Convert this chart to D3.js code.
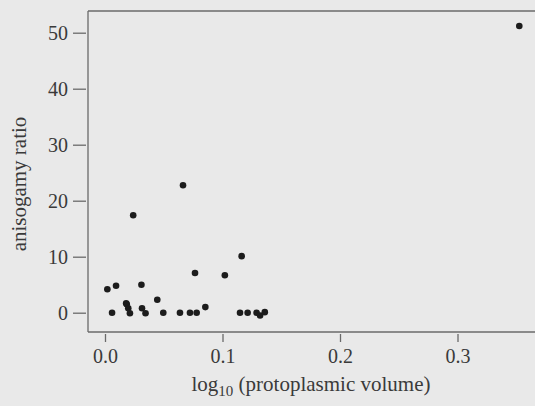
<!DOCTYPE html>
<html><head><meta charset="utf-8">
<script src="https://cdn.jsdelivr.net/npm/d3@7"></script>
<style>
html,body{margin:0;padding:0;background:#e9e9e9;}
svg{display:block;}
text{font-family:"Liberation Serif","DejaVu Serif",serif;fill:#3a3a3a;}
</style></head>
<body><svg id="c" width="535" height="406"></svg>
<script>
const logVolume = [0.002,0.0094,0.006,0.018,0.0185,0.0198,0.0212,0.024,0.031,0.0315,0.0345,0.0445,0.0496,0.0638,0.0664,0.0723,0.078,0.0766,0.0854,0.102,0.1163,0.1149,0.1214,0.129,0.132,0.136,0.3526];
const anisogamy = [4.2,4.8,0,1.7,1.5,0.8,-0.1,17.4,5.0,0.8,-0.1,2.3,0,0,22.75,0,0,7.1,1.0,6.7,10.1,0,0,0,-0.5,0.1,51.2];
const xTicks = [0.0,0.1,0.2,0.3];
const yTicks = [0,10,20,30,40,50];
const xTitle = "log";
const xTitleSub = "10";
const xTitleRest = " (protoplasmic volume)";
const yTitle = "anisogamy ratio";

(function(){
const svg = d3.select("#c");
const x = d3.scaleLinear().domain([0,0.3]).range([105,457.5]);
const y = d3.scaleLinear().domain([0,50]).range([312.7,32.7]);
const axisCol = "#6a6a6a";
const pLeft = 88, pTop = 11, pBottom = 332, pRight = 535;

svg.append("line").attr("x1",pLeft).attr("x2",pRight).attr("y1",pTop).attr("y2",pTop).attr("stroke",axisCol).attr("stroke-width",1.3);
svg.append("line").attr("x1",pLeft).attr("x2",pRight).attr("y1",pBottom).attr("y2",pBottom).attr("stroke",axisCol).attr("stroke-width",1.3);
svg.append("line").attr("x1",pLeft).attr("x2",pLeft).attr("y1",pTop).attr("y2",pBottom).attr("stroke",axisCol).attr("stroke-width",1.3);

const yAxis = d3.axisLeft(y).tickValues(yTicks).tickSize(13).tickPadding(5).tickFormat(d3.format("d"));
const gy = svg.append("g").attr("transform",`translate(${pLeft-2},0)`).call(yAxis);
gy.select(".domain").remove();
gy.selectAll(".tick line").attr("stroke",axisCol).attr("stroke-width",1.3);
gy.selectAll(".tick text").style("font-size","20px").attr("fill","#3a3a3a").attr("font-family","Liberation Serif");

const xAxis = d3.axisBottom(x).tickValues(xTicks).tickSize(8).tickPadding(7).tickFormat(d3.format(".1f"));
const gx = svg.append("g").attr("transform",`translate(0,${pBottom+2})`).call(xAxis);
gx.select(".domain").remove();
gx.selectAll(".tick line").attr("stroke",axisCol).attr("stroke-width",1.3);
gx.selectAll(".tick text").style("font-size","20px").attr("fill","#3a3a3a").attr("font-family","Liberation Serif");

svg.append("g").selectAll("circle").data(logVolume.map((v,i)=>[v,anisogamy[i]]))
  .join("circle").attr("cx",d=>x(d[0])).attr("cy",d=>y(d[1])).attr("r",3.3).attr("fill","#1c1c1c");

const xt = svg.append("text").attr("x",311).attr("y",391).attr("text-anchor","middle").style("font-size","21px");
xt.append("tspan").text(xTitle);
xt.append("tspan").attr("dy",5).style("font-size","15px").text(xTitleSub);
xt.append("tspan").attr("dy",-5).text(xTitleRest);

svg.append("text").attr("transform","translate(26,184) rotate(-90)").attr("text-anchor","middle").style("font-size","21px").text(yTitle);
})();
</script></body></html>
